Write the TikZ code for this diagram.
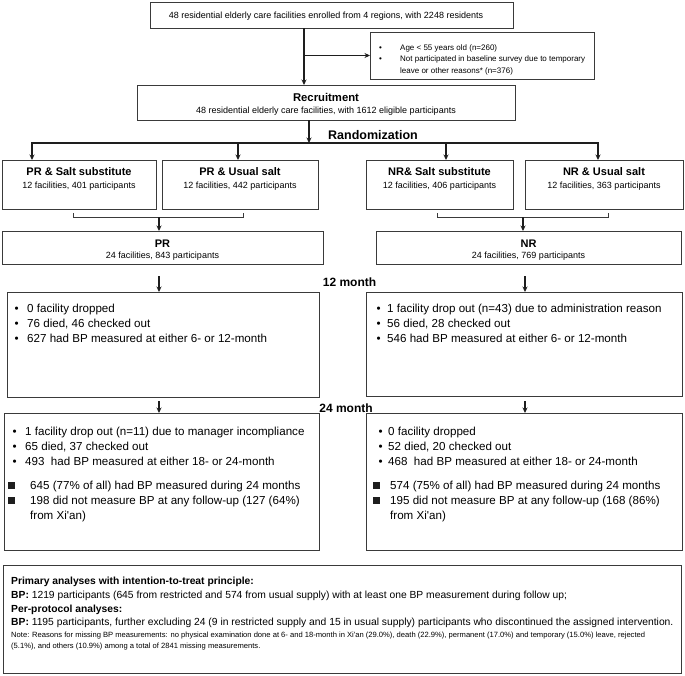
\documentclass[tikz,border=0pt]{standalone}
\usepackage{fontspec}
\setmainfont{Liberation Sans}
\usetikzlibrary{arrows.meta,calc}
\definecolor{boxc}{HTML}{3A3A3A}
\definecolor{linec}{HTML}{1E1E1E}
\newcommand{\mkbox}[5]{\node[bx, minimum width={(#4-#2)*1pt}, minimum height={(#5-#3)*1pt}] (#1) at ({(#2+#4)/2},{(#3+#5)/2}) {};}
\newcommand{\sqbul}{\raisebox{0.4pt}{\textcolor{linec}{\rule{7pt}{7pt}}}}
\begin{document}
\begin{tikzpicture}[x=1pt,y=-1pt,
  bx/.style={draw=boxc, line width=0.9pt, inner sep=0pt, outer sep=0pt},
  ln/.style={draw=linec, line width=1.1pt},
  ar/.style={ln, -{Stealth[length=5.5pt,width=5pt]}},
  tx/.style={inner sep=0pt, font=\fontsize{9}{11}\selectfont},
  ttl/.style={inner sep=0pt, font=\bfseries\fontsize{11}{13}\selectfont},
  lst/.style={anchor=base west, inner sep=0pt, font=\fontsize{11.6}{15}\selectfont},
  lbl/.style={inner sep=0pt, font=\bfseries\fontsize{12}{14}\selectfont},
]
\fill[white] (0,0) rectangle (685,675);
\useasboundingbox (0,0) rectangle (685,675);

% boxes
\mkbox{top}{150}{2}{513}{28}
\mkbox{excl}{370}{32}{594}{79}
\mkbox{rec}{137}{85}{515}{120}
\mkbox{pss}{2}{160}{156}{209}
\mkbox{pus}{162}{160}{318}{209}
\mkbox{nss}{366}{160}{513}{209}
\mkbox{nus}{525}{160}{683}{209}
\mkbox{pr}{2}{231}{323}{264}
\mkbox{nr}{376}{231}{681}{264}
\mkbox{pa}{7}{292}{319}{397}
\mkbox{na}{366}{292}{682}{396}
\mkbox{pb}{4}{413}{319}{550}
\mkbox{nb}{366}{413}{682}{550}
\mkbox{bot}{3}{565}{681}{673}

% texts
\node[tx] (toptx) at (326,16) {48 residential elderly care facilities enrolled from 4 regions, with 2248 residents};
\node[anchor=base west, inner sep=0pt, font=\fontsize{8}{11.5}\selectfont] (excltx) at (379,50)
  {\begin{tabular}[t]{@{}p{21pt}@{}l@{}}
   •&Age < 55 years old (n=260)\\
   •&Not participated in baseline survey due to temporary\\
   &leave or other reasons* (n=376)
   \end{tabular}};
\node[inner sep=0pt, font=\bfseries\fontsize{11.3}{13}\selectfont] (rectl) at (326,97) {Recruitment};
\node[tx] (recsub) at (326,111) {48 residential elderly care facilities, with 1612 eligible participants};
\node[lbl, font=\bfseries\fontsize{12.5}{14}\selectfont] (rand) at (373,135) {Randomization};

\node[ttl] (pssT) at ($(pss.north)+(0,12)$) {PR \& Salt substitute};
\node[tx] (pssS) at ($(pss.north)+(0,26)$) {12 facilities, 401 participants};
\node[ttl] (pusT) at ($(pus.north)+(0,12)$) {PR \& Usual salt};
\node[tx] (pusS) at ($(pus.north)+(0,26)$) {12 facilities, 442 participants};
\node[ttl] (nssT) at ($(nss.north)+(0,12)$) {NR\& Salt substitute};
\node[tx] (nssS) at ($(nss.north)+(0,26)$) {12 facilities, 406 participants};
\node[ttl] (nusT) at ($(nus.north)+(0,12)$) {NR \& Usual salt};
\node[tx] (nusS) at ($(nus.north)+(0,26)$) {12 facilities, 363 participants};

\node[ttl] (prT) at ($(pr.north)+(0,12.5)$) {PR};
\node[tx] (prS) at ($(pr.north)+(0,25.5)$) {24 facilities, 843 participants};
\node[ttl] (nrT) at ($(nr.north)+(0,12.5)$) {NR};
\node[tx] (nrS) at ($(nr.north)+(0,25.5)$) {24 facilities, 769 participants};

\node[lbl] (m12) at (349.5,282) {12 month};
\node[lbl] (m24) at (346,408) {24 month};

\node[lst] (paL) at (14.5,312.2)
  {\begin{tabular}[t]{@{}p{12.5pt}@{}l@{}}
   •&0 facility dropped\\
   •&76 died, 46 checked out\\
   •&627 had BP measured at either 6- or 12-month
   \end{tabular}};
\node[lst] (naL) at (376.5,312.2)
  {\begin{tabular}[t]{@{}p{10.5pt}@{}l@{}}
   •&1 facility drop out (n=43) due to administration reason\\
   •&56 died, 28 checked out\\
   •&546 had BP measured at either 6- or 12-month
   \end{tabular}};
\node[lst] (pbL) at (12.5,435.2)
  {\begin{tabular}[t]{@{}p{12.5pt}@{}l@{}}
   •&1 facility drop out (n=11) due to manager incompliance\\
   •&65 died, 37 checked out\\
   •&493\ \ had BP measured at either 18- or 24-month
   \end{tabular}};
\node[lst] (pbS) at (7.3,489.2)
  {\begin{tabular}[t]{@{}p{22.7pt}@{}l@{}}
   \sqbul&645 (77\% of all) had BP measured during 24 months\\
   \sqbul&198 did not measure BP at any follow-up (127 (64\%)\\
   &from Xi\textquotesingle an)
   \end{tabular}};
\node[lst] (nbL) at (378.5,435.2)
  {\begin{tabular}[t]{@{}p{9.5pt}@{}l@{}}
   •&0 facility dropped\\
   •&52 died, 20 checked out\\
   •&468\ \ had BP measured at either 18- or 24-month
   \end{tabular}};
\node[lst] (nbS) at (373,489.2)
  {\begin{tabular}[t]{@{}p{17pt}@{}l@{}}
   \sqbul&574 (75\% of all) had BP measured during 24 months\\
   \sqbul&195 did not measure BP at any follow-up (168 (86\%)\\
   &from Xi\textquotesingle an)
   \end{tabular}};

\node[anchor=base west, inner sep=0pt, font=\fontsize{10.3}{13.6}\selectfont] (botT) at (11,584.8)
  {\begin{tabular}[t]{@{}l@{}}
   \textbf{Primary analyses with intention-to-treat principle:}\\
   \textbf{BP:} 1219 participants (645 from restricted and 574 from usual supply) with at least one BP measurement during follow up;\\
   \textbf{Per-protocol analyses:}\\
   \textbf{BP:} 1195 participants, further excluding 24 (9 in restricted supply and 15 in usual supply) participants who discontinued the assigned intervention.
   \end{tabular}};
\node[anchor=base west, inner sep=0pt, font=\fontsize{7.6}{10.3}\selectfont] (botN) at (11,637.7)
  {\begin{tabular}[t]{@{}l@{}}
   Note: Reasons for missing BP measurements: no physical examination done at 6- and 18-month in Xi\textquotesingle an (29.0\%), death (22.9\%), permanent (17.0\%) and temporary (15.0\%) leave, rejected\\
   (5.1\%), and others (10.9\%) among a total of 2841 missing measurements.
   \end{tabular}};

% connectors
\coordinate (c1) at (304,0);
\draw[ar] (top.south -| c1) -- (rec.north -| c1);
\draw[ar] (c1 |- excl.west) -- (excl.west);
\coordinate (rx) at (309,143);
\draw[ar] (rec.south -| rx) -- (rx);
\coordinate (rl) at (32,143);
\coordinate (rr) at (598,143);
\coordinate (r2) at (238,143);
\coordinate (r3) at (446,143);
\draw[ln, {Stealth[length=5.5pt,width=5pt]}-{Stealth[length=5.5pt,width=5pt]}] (rl |- pss.north) -- (rl) -- (rr) -- (rr |- nus.north);
\draw[ar] (r2) -- (r2 |- pus.north);
\draw[ar] (r3) -- (r3 |- nss.north);

\coordinate (bp1) at (73,213);
\coordinate (bp2) at (243,217);
\coordinate (bpm) at (159,217);
\draw[bx] (bp1) -- (bp1 |- bp2) -- (bp2) -- (bp2 |- bp1);
\draw[ar] (bpm) -- (bpm |- pr.north);
\coordinate (bn1) at (437,213);
\coordinate (bn2) at (608,217);
\coordinate (bnm) at (523,217);
\draw[bx] (bn1) -- (bn1 |- bn2) -- (bn2) -- (bn2 |- bn1);
\draw[ar] (bnm) -- (bnm |- nr.north);

\coordinate (pa0) at (159,276);
\draw[ar] (pa0) -- (pa0 |- pa.north);
\coordinate (na0) at (525,276);
\draw[ar] (na0) -- (na0 |- na.north);
\coordinate (pb0) at (159,401);
\draw[ar] (pb0) -- (pb0 |- pb.north);
\coordinate (nb0) at (525,401);
\draw[ar] (nb0) -- (nb0 |- nb.north);
\end{tikzpicture}
\end{document}
